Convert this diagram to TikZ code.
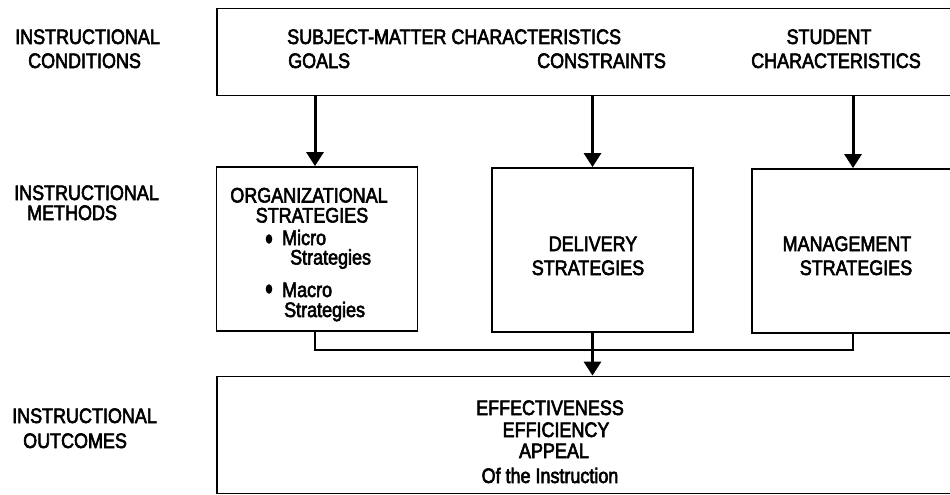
\documentclass[tikz,border=0pt]{standalone}
\usepackage{fontspec}
\setmainfont{Liberation Sans}[FakeStretch=0.855, FakeBold=2.8]
\usetikzlibrary{arrows.meta}
\begin{document}
\begin{tikzpicture}[x=1pt,y=-1pt,
  box/.style={draw, line width=1.8pt, inner sep=0pt},
  txt/.style={inner sep=0pt, anchor=base west, font=\fontsize{21}{24}\selectfont},
  ctxt/.style={inner sep=0pt, anchor=base, font=\fontsize{21}{24}\selectfont},
  arr/.style={line width=3pt, -{Triangle[length=14pt,width=17pt]}},
  link/.style={line width=2.6pt}]
\useasboundingbox (0,0) rectangle (950,495);
\clip (0,0) rectangle (950,495);
% boxes
\node[box, minimum width=760pt, minimum height=87pt] (top) at (597,52) {};
\node[box, minimum width=201pt, minimum height=164pt] (org) at (317,249) {};
\node[box, minimum width=201pt, minimum height=164pt] (del) at (592.5,250) {};
\node[box, minimum width=220pt, minimum height=164pt] (man) at (862,251) {};
\node[box, minimum width=760pt, minimum height=117pt] (out) at (597,435) {};
\coordinate (mx) at (853,0);
\coordinate (ox) at (315,0);
\coordinate (jn) at (315,350);
\coordinate (jm) at (853,350);
% connectors
\draw[arr] (top.south -| ox) -- (org.north -| ox);
\draw[arr] (top.south -| del.north) -- (del.north);
\draw[arr] (top.south -| mx) -- (man.north -| mx);
\draw[link] (org.south -| ox) -- (jn) -- (jm) -- (man.south -| mx);
\draw[arr] (del.south) -- (out.north -| del.south);
% left labels
\node[txt] (l1a) at (15,44) {INSTRUCTIONAL};
\node[txt] (l1b) at (28,68) {CONDITIONS};
\node[txt] (l2a) at (14,200) {INSTRUCTIONAL};
\node[txt] (l2b) at (27,220) {METHODS};
\node[txt] (l3a) at (12,423) {INSTRUCTIONAL};
\node[txt] (l3b) at (23,448) {OUTCOMES};
% top box texts
\node[txt] (t1) at (287,44) {SUBJECT-MATTER CHARACTERISTICS};
\node[txt] (t2) at (288,68) {GOALS};
\node[txt] (t3) at (537,68) {CONSTRAINTS};
\node[ctxt] (t4) at (829,44) {STUDENT};
\node[ctxt] (t5) at (836,68) {CHARACTERISTICS};
% organizational
\node[ctxt] (o1) at (309,202.5) {ORGANIZATIONAL};
\node[ctxt] (o2) at (312,222.5) {STRATEGIES};
\fill (269,239) ellipse (3.3pt and 4.8pt) coordinate (b1);
\node[txt] (o3) at (282,245) {Micro};
\node[txt] (o4) at (290,264.5) {Strategies};
\fill (269,289) ellipse (3.3pt and 4.8pt) coordinate (b2);
\node[txt] (o5) at (282,297) {Macro};
\node[txt] (o6) at (284,317) {Strategies};
% delivery
\node[ctxt] (d1) at (593,251) {DELIVERY};
\node[ctxt] (d2) at (588,275) {STRATEGIES};
% management
\node[ctxt] (m1) at (847,251) {MANAGEMENT};
\node[ctxt] (m2) at (856,275) {STRATEGIES};
% outcomes
\node[ctxt] (e1) at (550,415) {EFFECTIVENESS};
\node[ctxt] (e2) at (556,437) {EFFICIENCY};
\node[ctxt] (e3) at (554,458) {APPEAL};
\node[ctxt] (e4) at (550,483) {Of the Instruction};
\end{tikzpicture}
\end{document}
